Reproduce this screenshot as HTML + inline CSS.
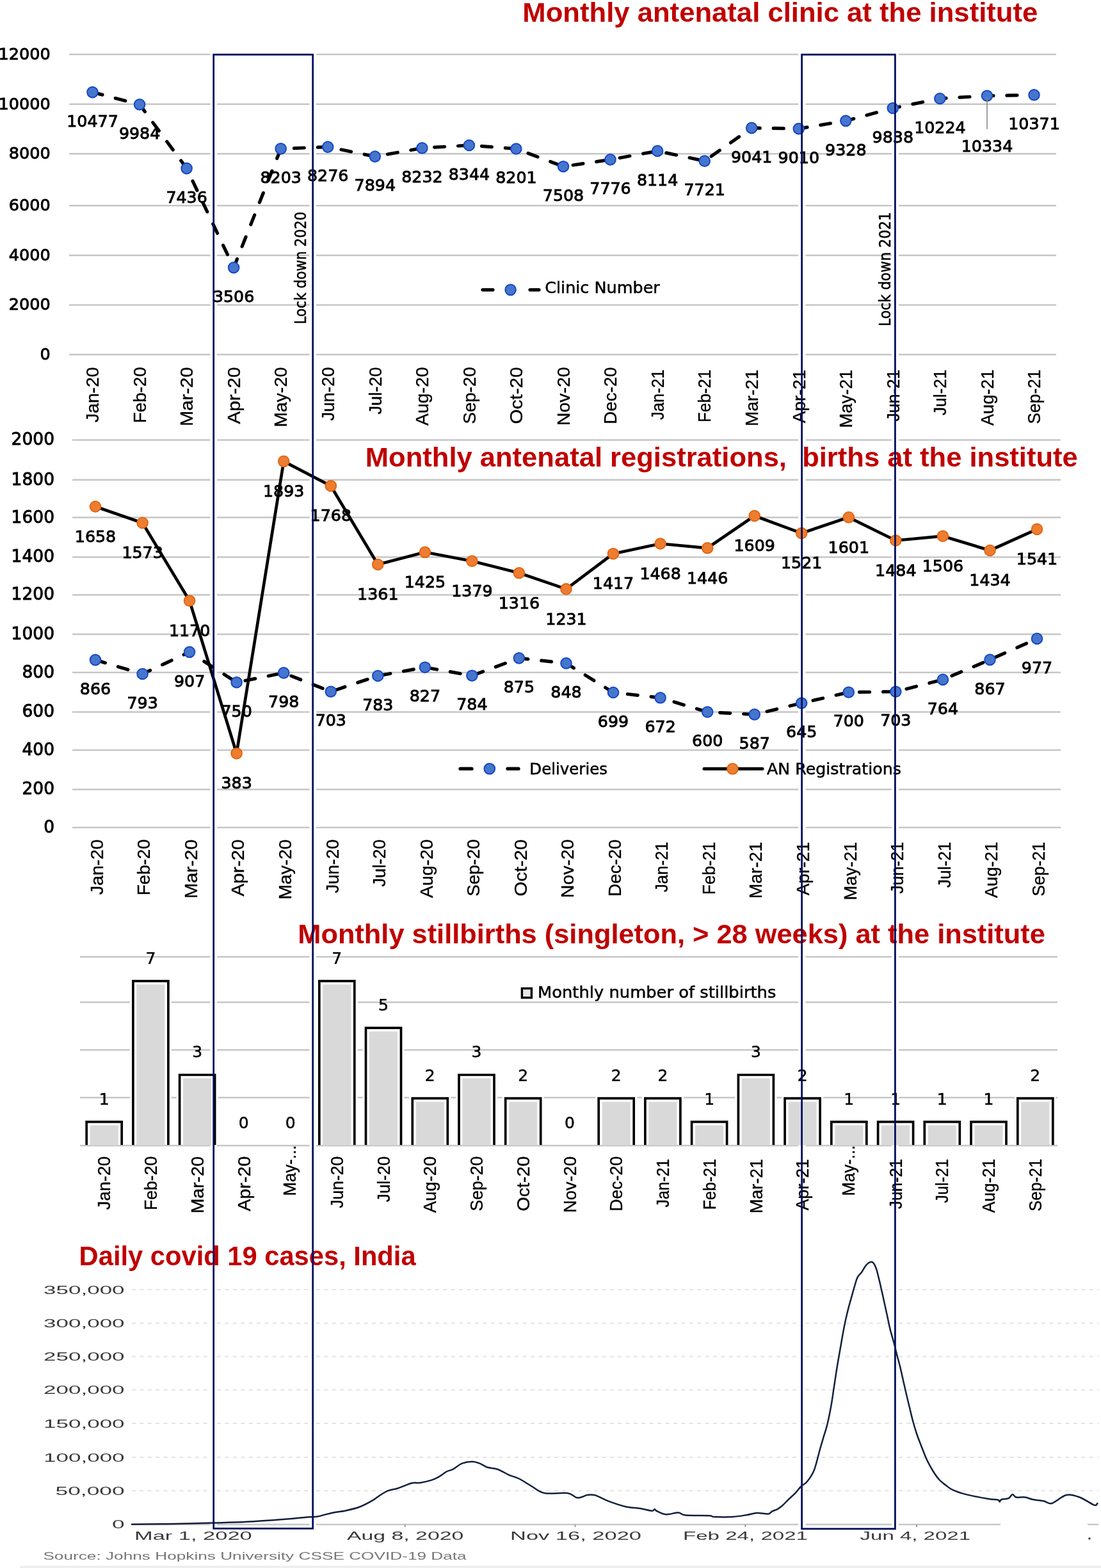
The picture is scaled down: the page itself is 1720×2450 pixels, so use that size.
<!DOCTYPE html><html><head><meta charset="utf-8"><title>Monthly antenatal clinic, registrations, births and stillbirths vs daily covid 19 cases</title>
<style>html,body{margin:0;padding:0;background:#fff;}svg{display:block;}</style></head><body>
<svg width="1720" height="2450" viewBox="0 0 1720 2450">
<rect x="0" y="0" width="1720" height="2450" fill="#fff"/>
<line x1="108" y1="554" x2="328.5" y2="554" stroke="#c6c6c6" stroke-width="2.5"/>
<line x1="339" y1="554" x2="483.5" y2="554" stroke="#c6c6c6" stroke-width="2.5"/>
<line x1="494" y1="554" x2="1247" y2="554" stroke="#c6c6c6" stroke-width="2.5"/>
<line x1="1258.5" y1="554" x2="1393" y2="554" stroke="#c6c6c6" stroke-width="2.5"/>
<line x1="1404" y1="554" x2="1650" y2="554" stroke="#c6c6c6" stroke-width="2.5"/>
<text x="78.7" y="562" font-size="25.5" font-family="'DejaVu Sans', 'Liberation Sans', sans-serif" fill="#000" text-anchor="end" stroke="#000" stroke-width="0.9">0</text>
<line x1="108" y1="476.4" x2="328.5" y2="476.4" stroke="#c6c6c6" stroke-width="2.5"/>
<line x1="339" y1="476.4" x2="483.5" y2="476.4" stroke="#c6c6c6" stroke-width="2.5"/>
<line x1="494" y1="476.4" x2="1247" y2="476.4" stroke="#c6c6c6" stroke-width="2.5"/>
<line x1="1258.5" y1="476.4" x2="1393" y2="476.4" stroke="#c6c6c6" stroke-width="2.5"/>
<line x1="1404" y1="476.4" x2="1650" y2="476.4" stroke="#c6c6c6" stroke-width="2.5"/>
<text x="78.7" y="484.4" font-size="25.5" font-family="'DejaVu Sans', 'Liberation Sans', sans-serif" fill="#000" text-anchor="end" stroke="#000" stroke-width="0.9">2000</text>
<line x1="108" y1="399" x2="328.5" y2="399" stroke="#c6c6c6" stroke-width="2.5"/>
<line x1="339" y1="399" x2="483.5" y2="399" stroke="#c6c6c6" stroke-width="2.5"/>
<line x1="494" y1="399" x2="1247" y2="399" stroke="#c6c6c6" stroke-width="2.5"/>
<line x1="1258.5" y1="399" x2="1393" y2="399" stroke="#c6c6c6" stroke-width="2.5"/>
<line x1="1404" y1="399" x2="1650" y2="399" stroke="#c6c6c6" stroke-width="2.5"/>
<text x="78.7" y="407" font-size="25.5" font-family="'DejaVu Sans', 'Liberation Sans', sans-serif" fill="#000" text-anchor="end" stroke="#000" stroke-width="0.9">4000</text>
<line x1="108" y1="321.2" x2="328.5" y2="321.2" stroke="#c6c6c6" stroke-width="2.5"/>
<line x1="339" y1="321.2" x2="483.5" y2="321.2" stroke="#c6c6c6" stroke-width="2.5"/>
<line x1="494" y1="321.2" x2="1247" y2="321.2" stroke="#c6c6c6" stroke-width="2.5"/>
<line x1="1258.5" y1="321.2" x2="1393" y2="321.2" stroke="#c6c6c6" stroke-width="2.5"/>
<line x1="1404" y1="321.2" x2="1650" y2="321.2" stroke="#c6c6c6" stroke-width="2.5"/>
<text x="78.7" y="329.2" font-size="25.5" font-family="'DejaVu Sans', 'Liberation Sans', sans-serif" fill="#000" text-anchor="end" stroke="#000" stroke-width="0.9">6000</text>
<line x1="108" y1="240.3" x2="328.5" y2="240.3" stroke="#c6c6c6" stroke-width="2.5"/>
<line x1="339" y1="240.3" x2="483.5" y2="240.3" stroke="#c6c6c6" stroke-width="2.5"/>
<line x1="494" y1="240.3" x2="1247" y2="240.3" stroke="#c6c6c6" stroke-width="2.5"/>
<line x1="1258.5" y1="240.3" x2="1393" y2="240.3" stroke="#c6c6c6" stroke-width="2.5"/>
<line x1="1404" y1="240.3" x2="1650" y2="240.3" stroke="#c6c6c6" stroke-width="2.5"/>
<text x="78.7" y="248.3" font-size="25.5" font-family="'DejaVu Sans', 'Liberation Sans', sans-serif" fill="#000" text-anchor="end" stroke="#000" stroke-width="0.9">8000</text>
<line x1="108" y1="162.7" x2="328.5" y2="162.7" stroke="#c6c6c6" stroke-width="2.5"/>
<line x1="339" y1="162.7" x2="483.5" y2="162.7" stroke="#c6c6c6" stroke-width="2.5"/>
<line x1="494" y1="162.7" x2="1247" y2="162.7" stroke="#c6c6c6" stroke-width="2.5"/>
<line x1="1258.5" y1="162.7" x2="1393" y2="162.7" stroke="#c6c6c6" stroke-width="2.5"/>
<line x1="1404" y1="162.7" x2="1650" y2="162.7" stroke="#c6c6c6" stroke-width="2.5"/>
<text x="78.7" y="170.7" font-size="25.5" font-family="'DejaVu Sans', 'Liberation Sans', sans-serif" fill="#000" text-anchor="end" stroke="#000" stroke-width="0.9">10000</text>
<line x1="108" y1="84.9" x2="328.5" y2="84.9" stroke="#c6c6c6" stroke-width="2.5"/>
<line x1="339" y1="84.9" x2="483.5" y2="84.9" stroke="#c6c6c6" stroke-width="2.5"/>
<line x1="494" y1="84.9" x2="1247" y2="84.9" stroke="#c6c6c6" stroke-width="2.5"/>
<line x1="1258.5" y1="84.9" x2="1393" y2="84.9" stroke="#c6c6c6" stroke-width="2.5"/>
<line x1="1404" y1="84.9" x2="1650" y2="84.9" stroke="#c6c6c6" stroke-width="2.5"/>
<text x="78.7" y="92.9" font-size="25.5" font-family="'DejaVu Sans', 'Liberation Sans', sans-serif" fill="#000" text-anchor="end" stroke="#000" stroke-width="0.9">12000</text>
<polyline points="144.5,144.1 218.1,163.3 291.6,263.1 365.1,418.1 438.7,232.4 512.2,229.6 585.8,244.6 659.4,231.3 732.9,227 806.4,232.5 880,260.2 953.5,249.4 1027.1,235.9 1100.7,251.6 1174.2,199.9 1247.8,201.1 1321.3,188.8 1394.8,169 1468.4,154 1542,149.7 1615.5,148.3" fill="none" stroke="#000" stroke-width="5.2" stroke-linejoin="round" stroke-dasharray="16 21" stroke-linecap="round"/>
<circle cx="144.5" cy="144.1" r="8.3" fill="#4676cc" stroke="#1848c8" stroke-width="2"/>
<circle cx="218.1" cy="163.3" r="8.3" fill="#4676cc" stroke="#1848c8" stroke-width="2"/>
<circle cx="291.6" cy="263.1" r="8.3" fill="#4676cc" stroke="#1848c8" stroke-width="2"/>
<circle cx="365.1" cy="418.1" r="8.3" fill="#4676cc" stroke="#1848c8" stroke-width="2"/>
<circle cx="438.7" cy="232.4" r="8.3" fill="#4676cc" stroke="#1848c8" stroke-width="2"/>
<circle cx="512.2" cy="229.6" r="8.3" fill="#4676cc" stroke="#1848c8" stroke-width="2"/>
<circle cx="585.8" cy="244.6" r="8.3" fill="#4676cc" stroke="#1848c8" stroke-width="2"/>
<circle cx="659.4" cy="231.3" r="8.3" fill="#4676cc" stroke="#1848c8" stroke-width="2"/>
<circle cx="732.9" cy="227" r="8.3" fill="#4676cc" stroke="#1848c8" stroke-width="2"/>
<circle cx="806.4" cy="232.5" r="8.3" fill="#4676cc" stroke="#1848c8" stroke-width="2"/>
<circle cx="880" cy="260.2" r="8.3" fill="#4676cc" stroke="#1848c8" stroke-width="2"/>
<circle cx="953.5" cy="249.4" r="8.3" fill="#4676cc" stroke="#1848c8" stroke-width="2"/>
<circle cx="1027.1" cy="235.9" r="8.3" fill="#4676cc" stroke="#1848c8" stroke-width="2"/>
<circle cx="1100.7" cy="251.6" r="8.3" fill="#4676cc" stroke="#1848c8" stroke-width="2"/>
<circle cx="1174.2" cy="199.9" r="8.3" fill="#4676cc" stroke="#1848c8" stroke-width="2"/>
<circle cx="1247.8" cy="201.1" r="8.3" fill="#4676cc" stroke="#1848c8" stroke-width="2"/>
<circle cx="1321.3" cy="188.8" r="8.3" fill="#4676cc" stroke="#1848c8" stroke-width="2"/>
<circle cx="1394.8" cy="169" r="8.3" fill="#4676cc" stroke="#1848c8" stroke-width="2"/>
<circle cx="1468.4" cy="154" r="8.3" fill="#4676cc" stroke="#1848c8" stroke-width="2"/>
<circle cx="1542" cy="149.7" r="8.3" fill="#4676cc" stroke="#1848c8" stroke-width="2"/>
<circle cx="1615.5" cy="148.3" r="8.3" fill="#4676cc" stroke="#1848c8" stroke-width="2"/>
<text x="144.5" y="197.8" font-size="25.3" font-family="'DejaVu Sans', 'Liberation Sans', sans-serif" fill="#000" text-anchor="middle" stroke="#000" stroke-width="0.9">10477</text>
<text x="218.1" y="217" font-size="25.3" font-family="'DejaVu Sans', 'Liberation Sans', sans-serif" fill="#000" text-anchor="middle" stroke="#000" stroke-width="0.9">9984</text>
<text x="291.6" y="316.8" font-size="25.3" font-family="'DejaVu Sans', 'Liberation Sans', sans-serif" fill="#000" text-anchor="middle" stroke="#000" stroke-width="0.9">7436</text>
<text x="365.1" y="471.8" font-size="25.3" font-family="'DejaVu Sans', 'Liberation Sans', sans-serif" fill="#000" text-anchor="middle" stroke="#000" stroke-width="0.9">3506</text>
<text x="438.7" y="286.1" font-size="25.3" font-family="'DejaVu Sans', 'Liberation Sans', sans-serif" fill="#000" text-anchor="middle" stroke="#000" stroke-width="0.9">8203</text>
<text x="512.2" y="283.3" font-size="25.3" font-family="'DejaVu Sans', 'Liberation Sans', sans-serif" fill="#000" text-anchor="middle" stroke="#000" stroke-width="0.9">8276</text>
<text x="585.8" y="298.3" font-size="25.3" font-family="'DejaVu Sans', 'Liberation Sans', sans-serif" fill="#000" text-anchor="middle" stroke="#000" stroke-width="0.9">7894</text>
<text x="659.4" y="285" font-size="25.3" font-family="'DejaVu Sans', 'Liberation Sans', sans-serif" fill="#000" text-anchor="middle" stroke="#000" stroke-width="0.9">8232</text>
<text x="732.9" y="280.7" font-size="25.3" font-family="'DejaVu Sans', 'Liberation Sans', sans-serif" fill="#000" text-anchor="middle" stroke="#000" stroke-width="0.9">8344</text>
<text x="806.4" y="286.2" font-size="25.3" font-family="'DejaVu Sans', 'Liberation Sans', sans-serif" fill="#000" text-anchor="middle" stroke="#000" stroke-width="0.9">8201</text>
<text x="880" y="313.9" font-size="25.3" font-family="'DejaVu Sans', 'Liberation Sans', sans-serif" fill="#000" text-anchor="middle" stroke="#000" stroke-width="0.9">7508</text>
<text x="953.5" y="303.1" font-size="25.3" font-family="'DejaVu Sans', 'Liberation Sans', sans-serif" fill="#000" text-anchor="middle" stroke="#000" stroke-width="0.9">7776</text>
<text x="1027.1" y="289.6" font-size="25.3" font-family="'DejaVu Sans', 'Liberation Sans', sans-serif" fill="#000" text-anchor="middle" stroke="#000" stroke-width="0.9">8114</text>
<text x="1100.7" y="305.3" font-size="25.3" font-family="'DejaVu Sans', 'Liberation Sans', sans-serif" fill="#000" text-anchor="middle" stroke="#000" stroke-width="0.9">7721</text>
<text x="1174.2" y="253.6" font-size="25.3" font-family="'DejaVu Sans', 'Liberation Sans', sans-serif" fill="#000" text-anchor="middle" stroke="#000" stroke-width="0.9">9041</text>
<text x="1247.8" y="254.8" font-size="25.3" font-family="'DejaVu Sans', 'Liberation Sans', sans-serif" fill="#000" text-anchor="middle" stroke="#000" stroke-width="0.9">9010</text>
<text x="1321.3" y="242.5" font-size="25.3" font-family="'DejaVu Sans', 'Liberation Sans', sans-serif" fill="#000" text-anchor="middle" stroke="#000" stroke-width="0.9">9328</text>
<text x="1394.8" y="222.7" font-size="25.3" font-family="'DejaVu Sans', 'Liberation Sans', sans-serif" fill="#000" text-anchor="middle" stroke="#000" stroke-width="0.9">9838</text>
<text x="1468.4" y="207.7" font-size="25.3" font-family="'DejaVu Sans', 'Liberation Sans', sans-serif" fill="#000" text-anchor="middle" stroke="#000" stroke-width="0.9">10224</text>
<line x1="1542" y1="151.7" x2="1542" y2="201.7" stroke="#888" stroke-width="1.6"/>
<text x="1542" y="236.5" font-size="25.3" font-family="'DejaVu Sans', 'Liberation Sans', sans-serif" fill="#000" text-anchor="middle" stroke="#000" stroke-width="0.9">10334</text>
<text x="1615.5" y="202" font-size="25.3" font-family="'DejaVu Sans', 'Liberation Sans', sans-serif" fill="#000" text-anchor="middle" stroke="#000" stroke-width="0.9">10371</text>
<text transform="translate(154.2,573.5) rotate(-90)" font-size="28.3" font-family="'Liberation Sans', 'DejaVu Sans', sans-serif" text-anchor="end" stroke="#000" stroke-width="0.35" textLength="86.5" lengthAdjust="spacingAndGlyphs">Jan-20</text>
<text transform="translate(227.8,573.5) rotate(-90)" font-size="28.3" font-family="'Liberation Sans', 'DejaVu Sans', sans-serif" text-anchor="end" stroke="#000" stroke-width="0.35" textLength="87.5" lengthAdjust="spacingAndGlyphs">Feb-20</text>
<text transform="translate(301.3,573.5) rotate(-90)" font-size="28.3" font-family="'Liberation Sans', 'DejaVu Sans', sans-serif" text-anchor="end" stroke="#000" stroke-width="0.35" textLength="92.5" lengthAdjust="spacingAndGlyphs">Mar-20</text>
<text transform="translate(374.9,573.5) rotate(-90)" font-size="28.3" font-family="'Liberation Sans', 'DejaVu Sans', sans-serif" text-anchor="end" stroke="#000" stroke-width="0.35" textLength="89" lengthAdjust="spacingAndGlyphs">Apr-20</text>
<text transform="translate(448.4,573.5) rotate(-90)" font-size="28.3" font-family="'Liberation Sans', 'DejaVu Sans', sans-serif" text-anchor="end" stroke="#000" stroke-width="0.35" textLength="94" lengthAdjust="spacingAndGlyphs">May-20</text>
<text transform="translate(522,573.5) rotate(-90)" font-size="28.3" font-family="'Liberation Sans', 'DejaVu Sans', sans-serif" text-anchor="end" stroke="#000" stroke-width="0.35" textLength="84" lengthAdjust="spacingAndGlyphs">Jun-20</text>
<text transform="translate(595.5,573.5) rotate(-90)" font-size="28.3" font-family="'Liberation Sans', 'DejaVu Sans', sans-serif" text-anchor="end" stroke="#000" stroke-width="0.35" textLength="74.1" lengthAdjust="spacingAndGlyphs">Jul-20</text>
<text transform="translate(669.1,573.5) rotate(-90)" font-size="28.3" font-family="'Liberation Sans', 'DejaVu Sans', sans-serif" text-anchor="end" stroke="#000" stroke-width="0.35" textLength="91.5" lengthAdjust="spacingAndGlyphs">Aug-20</text>
<text transform="translate(742.6,573.5) rotate(-90)" font-size="28.3" font-family="'Liberation Sans', 'DejaVu Sans', sans-serif" text-anchor="end" stroke="#000" stroke-width="0.35" textLength="89" lengthAdjust="spacingAndGlyphs">Sep-20</text>
<text transform="translate(816.2,573.5) rotate(-90)" font-size="28.3" font-family="'Liberation Sans', 'DejaVu Sans', sans-serif" text-anchor="end" stroke="#000" stroke-width="0.35" textLength="89" lengthAdjust="spacingAndGlyphs">Oct-20</text>
<text transform="translate(889.7,573.5) rotate(-90)" font-size="28.3" font-family="'Liberation Sans', 'DejaVu Sans', sans-serif" text-anchor="end" stroke="#000" stroke-width="0.35" textLength="91.5" lengthAdjust="spacingAndGlyphs">Nov-20</text>
<text transform="translate(963.3,573.5) rotate(-90)" font-size="28.3" font-family="'Liberation Sans', 'DejaVu Sans', sans-serif" text-anchor="end" stroke="#000" stroke-width="0.35" textLength="89.2" lengthAdjust="spacingAndGlyphs">Dec-20</text>
<text transform="translate(1036.8,577.5) rotate(-90)" font-size="28.3" font-family="'Liberation Sans', 'DejaVu Sans', sans-serif" text-anchor="end" stroke="#000" stroke-width="0.35" textLength="78.5" lengthAdjust="spacingAndGlyphs">Jan-21</text>
<text transform="translate(1110.4,577.5) rotate(-90)" font-size="28.3" font-family="'Liberation Sans', 'DejaVu Sans', sans-serif" text-anchor="end" stroke="#000" stroke-width="0.35" textLength="82.5" lengthAdjust="spacingAndGlyphs">Feb-21</text>
<text transform="translate(1183.9,577.5) rotate(-90)" font-size="28.3" font-family="'Liberation Sans', 'DejaVu Sans', sans-serif" text-anchor="end" stroke="#000" stroke-width="0.35" textLength="88.5" lengthAdjust="spacingAndGlyphs">Mar-21</text>
<text transform="translate(1257.5,577.5) rotate(-90)" font-size="28.3" font-family="'Liberation Sans', 'DejaVu Sans', sans-serif" text-anchor="end" stroke="#000" stroke-width="0.35" textLength="83.5" lengthAdjust="spacingAndGlyphs">Apr-21</text>
<text transform="translate(1331,577.5) rotate(-90)" font-size="28.3" font-family="'Liberation Sans', 'DejaVu Sans', sans-serif" text-anchor="end" stroke="#000" stroke-width="0.35" textLength="91" lengthAdjust="spacingAndGlyphs">May-21</text>
<text transform="translate(1404.6,577.5) rotate(-90)" font-size="28.3" font-family="'Liberation Sans', 'DejaVu Sans', sans-serif" text-anchor="end" stroke="#000" stroke-width="0.35" textLength="81" lengthAdjust="spacingAndGlyphs">Jun-21</text>
<text transform="translate(1478.1,577.5) rotate(-90)" font-size="28.3" font-family="'Liberation Sans', 'DejaVu Sans', sans-serif" text-anchor="end" stroke="#000" stroke-width="0.35" textLength="71.5" lengthAdjust="spacingAndGlyphs">Jul-21</text>
<text transform="translate(1551.7,577.5) rotate(-90)" font-size="28.3" font-family="'Liberation Sans', 'DejaVu Sans', sans-serif" text-anchor="end" stroke="#000" stroke-width="0.35" textLength="87.5" lengthAdjust="spacingAndGlyphs">Aug-21</text>
<text transform="translate(1625.2,577.5) rotate(-90)" font-size="28.3" font-family="'Liberation Sans', 'DejaVu Sans', sans-serif" text-anchor="end" stroke="#000" stroke-width="0.35" textLength="85" lengthAdjust="spacingAndGlyphs">Sep-21</text>
<line x1="754" y1="452.8" x2="770" y2="452.8" stroke="#000" stroke-width="5.2" stroke-linecap="round"/>
<line x1="828" y1="452.8" x2="842" y2="452.8" stroke="#000" stroke-width="5.2" stroke-linecap="round"/>
<circle cx="797.6" cy="452.8" r="8.3" fill="#4676cc" stroke="#1848c8" stroke-width="2"/>
<text x="851.2" y="457.7" font-size="24.4" font-family="'DejaVu Sans', 'Liberation Sans', sans-serif" fill="#000" text-anchor="start" textLength="179.6" lengthAdjust="spacingAndGlyphs" stroke="#000" stroke-width="0.5">Clinic Number</text>
<text transform="translate(477.5,506.5) rotate(-90)" font-size="24" font-family="'DejaVu Sans', 'Liberation Sans', sans-serif" textLength="175.8" lengthAdjust="spacingAndGlyphs" stroke="#000" stroke-width="0.5">Lock down 2020</text>
<text transform="translate(1390.6,510) rotate(-90)" font-size="24" font-family="'DejaVu Sans', 'Liberation Sans', sans-serif" textLength="178.8" lengthAdjust="spacingAndGlyphs" stroke="#000" stroke-width="0.5">Lock down 2021</text>
<text x="816.3" y="33.5" font-size="43" font-family="'Liberation Sans', 'DejaVu Sans', sans-serif" fill="#c00000" text-anchor="start" font-weight="bold" textLength="805" lengthAdjust="spacingAndGlyphs">Monthly antenatal clinic at the institute</text>
<line x1="113" y1="1293" x2="328.5" y2="1293" stroke="#c6c6c6" stroke-width="2.5"/>
<line x1="339" y1="1293" x2="483.5" y2="1293" stroke="#c6c6c6" stroke-width="2.5"/>
<line x1="494" y1="1293" x2="1247" y2="1293" stroke="#c6c6c6" stroke-width="2.5"/>
<line x1="1258.5" y1="1293" x2="1393" y2="1293" stroke="#c6c6c6" stroke-width="2.5"/>
<line x1="1404" y1="1293" x2="1657" y2="1293" stroke="#c6c6c6" stroke-width="2.5"/>
<text x="85" y="1300.9" font-size="26.5" font-family="'DejaVu Sans', 'Liberation Sans', sans-serif" fill="#000" text-anchor="end" stroke="#000" stroke-width="0.9">0</text>
<line x1="113" y1="1233.5" x2="328.5" y2="1233.5" stroke="#c6c6c6" stroke-width="2.5"/>
<line x1="339" y1="1233.5" x2="483.5" y2="1233.5" stroke="#c6c6c6" stroke-width="2.5"/>
<line x1="494" y1="1233.5" x2="1247" y2="1233.5" stroke="#c6c6c6" stroke-width="2.5"/>
<line x1="1258.5" y1="1233.5" x2="1393" y2="1233.5" stroke="#c6c6c6" stroke-width="2.5"/>
<line x1="1404" y1="1233.5" x2="1657" y2="1233.5" stroke="#c6c6c6" stroke-width="2.5"/>
<text x="85" y="1241.4" font-size="26.5" font-family="'DejaVu Sans', 'Liberation Sans', sans-serif" fill="#000" text-anchor="end" stroke="#000" stroke-width="0.9">200</text>
<line x1="113" y1="1172" x2="328.5" y2="1172" stroke="#c6c6c6" stroke-width="2.5"/>
<line x1="339" y1="1172" x2="483.5" y2="1172" stroke="#c6c6c6" stroke-width="2.5"/>
<line x1="494" y1="1172" x2="1247" y2="1172" stroke="#c6c6c6" stroke-width="2.5"/>
<line x1="1258.5" y1="1172" x2="1393" y2="1172" stroke="#c6c6c6" stroke-width="2.5"/>
<line x1="1404" y1="1172" x2="1657" y2="1172" stroke="#c6c6c6" stroke-width="2.5"/>
<text x="85" y="1179.9" font-size="26.5" font-family="'DejaVu Sans', 'Liberation Sans', sans-serif" fill="#000" text-anchor="end" stroke="#000" stroke-width="0.9">400</text>
<line x1="113" y1="1112.5" x2="328.5" y2="1112.5" stroke="#c6c6c6" stroke-width="2.5"/>
<line x1="339" y1="1112.5" x2="483.5" y2="1112.5" stroke="#c6c6c6" stroke-width="2.5"/>
<line x1="494" y1="1112.5" x2="1247" y2="1112.5" stroke="#c6c6c6" stroke-width="2.5"/>
<line x1="1258.5" y1="1112.5" x2="1393" y2="1112.5" stroke="#c6c6c6" stroke-width="2.5"/>
<line x1="1404" y1="1112.5" x2="1657" y2="1112.5" stroke="#c6c6c6" stroke-width="2.5"/>
<text x="85" y="1120.4" font-size="26.5" font-family="'DejaVu Sans', 'Liberation Sans', sans-serif" fill="#000" text-anchor="end" stroke="#000" stroke-width="0.9">600</text>
<line x1="113" y1="1050.8" x2="328.5" y2="1050.8" stroke="#c6c6c6" stroke-width="2.5"/>
<line x1="339" y1="1050.8" x2="483.5" y2="1050.8" stroke="#c6c6c6" stroke-width="2.5"/>
<line x1="494" y1="1050.8" x2="1247" y2="1050.8" stroke="#c6c6c6" stroke-width="2.5"/>
<line x1="1258.5" y1="1050.8" x2="1393" y2="1050.8" stroke="#c6c6c6" stroke-width="2.5"/>
<line x1="1404" y1="1050.8" x2="1657" y2="1050.8" stroke="#c6c6c6" stroke-width="2.5"/>
<text x="85" y="1058.7" font-size="26.5" font-family="'DejaVu Sans', 'Liberation Sans', sans-serif" fill="#000" text-anchor="end" stroke="#000" stroke-width="0.9">800</text>
<line x1="113" y1="991" x2="328.5" y2="991" stroke="#c6c6c6" stroke-width="2.5"/>
<line x1="339" y1="991" x2="483.5" y2="991" stroke="#c6c6c6" stroke-width="2.5"/>
<line x1="494" y1="991" x2="1247" y2="991" stroke="#c6c6c6" stroke-width="2.5"/>
<line x1="1258.5" y1="991" x2="1393" y2="991" stroke="#c6c6c6" stroke-width="2.5"/>
<line x1="1404" y1="991" x2="1657" y2="991" stroke="#c6c6c6" stroke-width="2.5"/>
<text x="85" y="998.9" font-size="26.5" font-family="'DejaVu Sans', 'Liberation Sans', sans-serif" fill="#000" text-anchor="end" stroke="#000" stroke-width="0.9">1000</text>
<line x1="113" y1="929.5" x2="328.5" y2="929.5" stroke="#c6c6c6" stroke-width="2.5"/>
<line x1="339" y1="929.5" x2="483.5" y2="929.5" stroke="#c6c6c6" stroke-width="2.5"/>
<line x1="494" y1="929.5" x2="1247" y2="929.5" stroke="#c6c6c6" stroke-width="2.5"/>
<line x1="1258.5" y1="929.5" x2="1393" y2="929.5" stroke="#c6c6c6" stroke-width="2.5"/>
<line x1="1404" y1="929.5" x2="1657" y2="929.5" stroke="#c6c6c6" stroke-width="2.5"/>
<text x="85" y="937.4" font-size="26.5" font-family="'DejaVu Sans', 'Liberation Sans', sans-serif" fill="#000" text-anchor="end" stroke="#000" stroke-width="0.9">1200</text>
<line x1="113" y1="870.5" x2="328.5" y2="870.5" stroke="#c6c6c6" stroke-width="2.5"/>
<line x1="339" y1="870.5" x2="483.5" y2="870.5" stroke="#c6c6c6" stroke-width="2.5"/>
<line x1="494" y1="870.5" x2="1247" y2="870.5" stroke="#c6c6c6" stroke-width="2.5"/>
<line x1="1258.5" y1="870.5" x2="1393" y2="870.5" stroke="#c6c6c6" stroke-width="2.5"/>
<line x1="1404" y1="870.5" x2="1657" y2="870.5" stroke="#c6c6c6" stroke-width="2.5"/>
<text x="85" y="878.4" font-size="26.5" font-family="'DejaVu Sans', 'Liberation Sans', sans-serif" fill="#000" text-anchor="end" stroke="#000" stroke-width="0.9">1400</text>
<line x1="113" y1="808.6" x2="328.5" y2="808.6" stroke="#c6c6c6" stroke-width="2.5"/>
<line x1="339" y1="808.6" x2="483.5" y2="808.6" stroke="#c6c6c6" stroke-width="2.5"/>
<line x1="494" y1="808.6" x2="1247" y2="808.6" stroke="#c6c6c6" stroke-width="2.5"/>
<line x1="1258.5" y1="808.6" x2="1393" y2="808.6" stroke="#c6c6c6" stroke-width="2.5"/>
<line x1="1404" y1="808.6" x2="1657" y2="808.6" stroke="#c6c6c6" stroke-width="2.5"/>
<text x="85" y="816.5" font-size="26.5" font-family="'DejaVu Sans', 'Liberation Sans', sans-serif" fill="#000" text-anchor="end" stroke="#000" stroke-width="0.9">1600</text>
<line x1="113" y1="749.8" x2="328.5" y2="749.8" stroke="#c6c6c6" stroke-width="2.5"/>
<line x1="339" y1="749.8" x2="483.5" y2="749.8" stroke="#c6c6c6" stroke-width="2.5"/>
<line x1="494" y1="749.8" x2="1247" y2="749.8" stroke="#c6c6c6" stroke-width="2.5"/>
<line x1="1258.5" y1="749.8" x2="1393" y2="749.8" stroke="#c6c6c6" stroke-width="2.5"/>
<line x1="1404" y1="749.8" x2="1657" y2="749.8" stroke="#c6c6c6" stroke-width="2.5"/>
<text x="85" y="757.7" font-size="26.5" font-family="'DejaVu Sans', 'Liberation Sans', sans-serif" fill="#000" text-anchor="end" stroke="#000" stroke-width="0.9">1800</text>
<line x1="113" y1="687.5" x2="328.5" y2="687.5" stroke="#c6c6c6" stroke-width="2.5"/>
<line x1="339" y1="687.5" x2="483.5" y2="687.5" stroke="#c6c6c6" stroke-width="2.5"/>
<line x1="494" y1="687.5" x2="1247" y2="687.5" stroke="#c6c6c6" stroke-width="2.5"/>
<line x1="1258.5" y1="687.5" x2="1393" y2="687.5" stroke="#c6c6c6" stroke-width="2.5"/>
<line x1="1404" y1="687.5" x2="1657" y2="687.5" stroke="#c6c6c6" stroke-width="2.5"/>
<text x="85" y="695.4" font-size="26.5" font-family="'DejaVu Sans', 'Liberation Sans', sans-serif" fill="#000" text-anchor="end" stroke="#000" stroke-width="0.9">2000</text>
<text x="570.8" y="729.3" font-size="43" font-family="'Liberation Sans', 'DejaVu Sans', sans-serif" fill="#c00000" text-anchor="start" font-weight="bold" textLength="1113" lengthAdjust="spacingAndGlyphs">Monthly antenatal registrations,&#160; births at the institute</text>
<polyline points="149,1031.1 222.6,1053 296.1,1018.8 369.6,1066.2 443.2,1051.4 516.8,1080.7 590.3,1056 663.9,1042.7 737.4,1055.7 810.9,1028.4 884.5,1036.4 958,1082 1031.6,1090.3 1105.2,1112.5 1178.7,1116.4 1252.2,1098.6 1325.8,1081.7 1399.3,1080.7 1472.9,1061.9 1546.5,1030.8 1620,997.9" fill="none" stroke="#000" stroke-width="5.2" stroke-linejoin="round" stroke-dasharray="16 21" stroke-linecap="round"/>
<polyline points="149,791.5 222.6,817 296.1,938.7 369.6,1177.2 443.2,720.8 516.8,759.2 590.3,882 663.9,862.8 737.4,876.7 810.9,895.3 884.5,920.4 958,865.2 1031.6,849.5 1105.2,856.3 1178.7,806 1252.2,833.1 1325.8,808.3 1399.3,844.5 1472.9,837.7 1546.5,860 1620,826.9" fill="none" stroke="#000" stroke-width="4.7" stroke-linejoin="round" stroke-linecap="round"/>
<circle cx="149" cy="1031.1" r="8.3" fill="#4676cc" stroke="#1848c8" stroke-width="2"/>
<circle cx="222.6" cy="1053" r="8.3" fill="#4676cc" stroke="#1848c8" stroke-width="2"/>
<circle cx="296.1" cy="1018.8" r="8.3" fill="#4676cc" stroke="#1848c8" stroke-width="2"/>
<circle cx="369.6" cy="1066.2" r="8.3" fill="#4676cc" stroke="#1848c8" stroke-width="2"/>
<circle cx="443.2" cy="1051.4" r="8.3" fill="#4676cc" stroke="#1848c8" stroke-width="2"/>
<circle cx="516.8" cy="1080.7" r="8.3" fill="#4676cc" stroke="#1848c8" stroke-width="2"/>
<circle cx="590.3" cy="1056" r="8.3" fill="#4676cc" stroke="#1848c8" stroke-width="2"/>
<circle cx="663.9" cy="1042.7" r="8.3" fill="#4676cc" stroke="#1848c8" stroke-width="2"/>
<circle cx="737.4" cy="1055.7" r="8.3" fill="#4676cc" stroke="#1848c8" stroke-width="2"/>
<circle cx="810.9" cy="1028.4" r="8.3" fill="#4676cc" stroke="#1848c8" stroke-width="2"/>
<circle cx="884.5" cy="1036.4" r="8.3" fill="#4676cc" stroke="#1848c8" stroke-width="2"/>
<circle cx="958" cy="1082" r="8.3" fill="#4676cc" stroke="#1848c8" stroke-width="2"/>
<circle cx="1031.6" cy="1090.3" r="8.3" fill="#4676cc" stroke="#1848c8" stroke-width="2"/>
<circle cx="1105.2" cy="1112.5" r="8.3" fill="#4676cc" stroke="#1848c8" stroke-width="2"/>
<circle cx="1178.7" cy="1116.4" r="8.3" fill="#4676cc" stroke="#1848c8" stroke-width="2"/>
<circle cx="1252.2" cy="1098.6" r="8.3" fill="#4676cc" stroke="#1848c8" stroke-width="2"/>
<circle cx="1325.8" cy="1081.7" r="8.3" fill="#4676cc" stroke="#1848c8" stroke-width="2"/>
<circle cx="1399.3" cy="1080.7" r="8.3" fill="#4676cc" stroke="#1848c8" stroke-width="2"/>
<circle cx="1472.9" cy="1061.9" r="8.3" fill="#4676cc" stroke="#1848c8" stroke-width="2"/>
<circle cx="1546.5" cy="1030.8" r="8.3" fill="#4676cc" stroke="#1848c8" stroke-width="2"/>
<circle cx="1620" cy="997.9" r="8.3" fill="#4676cc" stroke="#1848c8" stroke-width="2"/>
<circle cx="149" cy="791.5" r="8.4" fill="#ed7d31" stroke="#e2640e" stroke-width="1.8"/>
<circle cx="222.6" cy="817" r="8.4" fill="#ed7d31" stroke="#e2640e" stroke-width="1.8"/>
<circle cx="296.1" cy="938.7" r="8.4" fill="#ed7d31" stroke="#e2640e" stroke-width="1.8"/>
<circle cx="369.6" cy="1177.2" r="8.4" fill="#ed7d31" stroke="#e2640e" stroke-width="1.8"/>
<circle cx="443.2" cy="720.8" r="8.4" fill="#ed7d31" stroke="#e2640e" stroke-width="1.8"/>
<circle cx="516.8" cy="759.2" r="8.4" fill="#ed7d31" stroke="#e2640e" stroke-width="1.8"/>
<circle cx="590.3" cy="882" r="8.4" fill="#ed7d31" stroke="#e2640e" stroke-width="1.8"/>
<circle cx="663.9" cy="862.8" r="8.4" fill="#ed7d31" stroke="#e2640e" stroke-width="1.8"/>
<circle cx="737.4" cy="876.7" r="8.4" fill="#ed7d31" stroke="#e2640e" stroke-width="1.8"/>
<circle cx="810.9" cy="895.3" r="8.4" fill="#ed7d31" stroke="#e2640e" stroke-width="1.8"/>
<circle cx="884.5" cy="920.4" r="8.4" fill="#ed7d31" stroke="#e2640e" stroke-width="1.8"/>
<circle cx="958" cy="865.2" r="8.4" fill="#ed7d31" stroke="#e2640e" stroke-width="1.8"/>
<circle cx="1031.6" cy="849.5" r="8.4" fill="#ed7d31" stroke="#e2640e" stroke-width="1.8"/>
<circle cx="1105.2" cy="856.3" r="8.4" fill="#ed7d31" stroke="#e2640e" stroke-width="1.8"/>
<circle cx="1178.7" cy="806" r="8.4" fill="#ed7d31" stroke="#e2640e" stroke-width="1.8"/>
<circle cx="1252.2" cy="833.1" r="8.4" fill="#ed7d31" stroke="#e2640e" stroke-width="1.8"/>
<circle cx="1325.8" cy="808.3" r="8.4" fill="#ed7d31" stroke="#e2640e" stroke-width="1.8"/>
<circle cx="1399.3" cy="844.5" r="8.4" fill="#ed7d31" stroke="#e2640e" stroke-width="1.8"/>
<circle cx="1472.9" cy="837.7" r="8.4" fill="#ed7d31" stroke="#e2640e" stroke-width="1.8"/>
<circle cx="1546.5" cy="860" r="8.4" fill="#ed7d31" stroke="#e2640e" stroke-width="1.8"/>
<circle cx="1620" cy="826.9" r="8.4" fill="#ed7d31" stroke="#e2640e" stroke-width="1.8"/>
<text x="149" y="1084.8" font-size="25.3" font-family="'DejaVu Sans', 'Liberation Sans', sans-serif" fill="#000" text-anchor="middle" stroke="#000" stroke-width="0.9">866</text>
<text x="222.6" y="1106.7" font-size="25.3" font-family="'DejaVu Sans', 'Liberation Sans', sans-serif" fill="#000" text-anchor="middle" stroke="#000" stroke-width="0.9">793</text>
<text x="296.1" y="1072.5" font-size="25.3" font-family="'DejaVu Sans', 'Liberation Sans', sans-serif" fill="#000" text-anchor="middle" stroke="#000" stroke-width="0.9">907</text>
<text x="369.6" y="1119.9" font-size="25.3" font-family="'DejaVu Sans', 'Liberation Sans', sans-serif" fill="#000" text-anchor="middle" stroke="#000" stroke-width="0.9">750</text>
<text x="443.2" y="1105.1" font-size="25.3" font-family="'DejaVu Sans', 'Liberation Sans', sans-serif" fill="#000" text-anchor="middle" stroke="#000" stroke-width="0.9">798</text>
<text x="516.8" y="1134.4" font-size="25.3" font-family="'DejaVu Sans', 'Liberation Sans', sans-serif" fill="#000" text-anchor="middle" stroke="#000" stroke-width="0.9">703</text>
<text x="590.3" y="1109.7" font-size="25.3" font-family="'DejaVu Sans', 'Liberation Sans', sans-serif" fill="#000" text-anchor="middle" stroke="#000" stroke-width="0.9">783</text>
<text x="663.9" y="1096.4" font-size="25.3" font-family="'DejaVu Sans', 'Liberation Sans', sans-serif" fill="#000" text-anchor="middle" stroke="#000" stroke-width="0.9">827</text>
<text x="737.4" y="1109.4" font-size="25.3" font-family="'DejaVu Sans', 'Liberation Sans', sans-serif" fill="#000" text-anchor="middle" stroke="#000" stroke-width="0.9">784</text>
<text x="810.9" y="1082.1" font-size="25.3" font-family="'DejaVu Sans', 'Liberation Sans', sans-serif" fill="#000" text-anchor="middle" stroke="#000" stroke-width="0.9">875</text>
<text x="884.5" y="1090.1" font-size="25.3" font-family="'DejaVu Sans', 'Liberation Sans', sans-serif" fill="#000" text-anchor="middle" stroke="#000" stroke-width="0.9">848</text>
<text x="958" y="1135.7" font-size="25.3" font-family="'DejaVu Sans', 'Liberation Sans', sans-serif" fill="#000" text-anchor="middle" stroke="#000" stroke-width="0.9">699</text>
<text x="1031.6" y="1144" font-size="25.3" font-family="'DejaVu Sans', 'Liberation Sans', sans-serif" fill="#000" text-anchor="middle" stroke="#000" stroke-width="0.9">672</text>
<text x="1105.2" y="1166.2" font-size="25.3" font-family="'DejaVu Sans', 'Liberation Sans', sans-serif" fill="#000" text-anchor="middle" stroke="#000" stroke-width="0.9">600</text>
<text x="1178.7" y="1170.1" font-size="25.3" font-family="'DejaVu Sans', 'Liberation Sans', sans-serif" fill="#000" text-anchor="middle" stroke="#000" stroke-width="0.9">587</text>
<text x="1252.2" y="1152.3" font-size="25.3" font-family="'DejaVu Sans', 'Liberation Sans', sans-serif" fill="#000" text-anchor="middle" stroke="#000" stroke-width="0.9">645</text>
<text x="1325.8" y="1135.4" font-size="25.3" font-family="'DejaVu Sans', 'Liberation Sans', sans-serif" fill="#000" text-anchor="middle" stroke="#000" stroke-width="0.9">700</text>
<text x="1399.3" y="1134.4" font-size="25.3" font-family="'DejaVu Sans', 'Liberation Sans', sans-serif" fill="#000" text-anchor="middle" stroke="#000" stroke-width="0.9">703</text>
<text x="1472.9" y="1115.6" font-size="25.3" font-family="'DejaVu Sans', 'Liberation Sans', sans-serif" fill="#000" text-anchor="middle" stroke="#000" stroke-width="0.9">764</text>
<text x="1546.5" y="1084.5" font-size="25.3" font-family="'DejaVu Sans', 'Liberation Sans', sans-serif" fill="#000" text-anchor="middle" stroke="#000" stroke-width="0.9">867</text>
<text x="1620" y="1051.6" font-size="25.3" font-family="'DejaVu Sans', 'Liberation Sans', sans-serif" fill="#000" text-anchor="middle" stroke="#000" stroke-width="0.9">977</text>
<text x="149" y="846.7" font-size="25.3" font-family="'DejaVu Sans', 'Liberation Sans', sans-serif" fill="#000" text-anchor="middle" stroke="#000" stroke-width="0.9">1658</text>
<text x="222.6" y="872.2" font-size="25.3" font-family="'DejaVu Sans', 'Liberation Sans', sans-serif" fill="#000" text-anchor="middle" stroke="#000" stroke-width="0.9">1573</text>
<text x="296.1" y="993.9" font-size="25.3" font-family="'DejaVu Sans', 'Liberation Sans', sans-serif" fill="#000" text-anchor="middle" stroke="#000" stroke-width="0.9">1170</text>
<text x="369.6" y="1232.4" font-size="25.3" font-family="'DejaVu Sans', 'Liberation Sans', sans-serif" fill="#000" text-anchor="middle" stroke="#000" stroke-width="0.9">383</text>
<text x="443.2" y="776" font-size="25.3" font-family="'DejaVu Sans', 'Liberation Sans', sans-serif" fill="#000" text-anchor="middle" stroke="#000" stroke-width="0.9">1893</text>
<text x="516.8" y="814.4" font-size="25.3" font-family="'DejaVu Sans', 'Liberation Sans', sans-serif" fill="#000" text-anchor="middle" stroke="#000" stroke-width="0.9">1768</text>
<text x="590.3" y="937.2" font-size="25.3" font-family="'DejaVu Sans', 'Liberation Sans', sans-serif" fill="#000" text-anchor="middle" stroke="#000" stroke-width="0.9">1361</text>
<text x="663.9" y="918" font-size="25.3" font-family="'DejaVu Sans', 'Liberation Sans', sans-serif" fill="#000" text-anchor="middle" stroke="#000" stroke-width="0.9">1425</text>
<text x="737.4" y="931.9" font-size="25.3" font-family="'DejaVu Sans', 'Liberation Sans', sans-serif" fill="#000" text-anchor="middle" stroke="#000" stroke-width="0.9">1379</text>
<text x="810.9" y="950.5" font-size="25.3" font-family="'DejaVu Sans', 'Liberation Sans', sans-serif" fill="#000" text-anchor="middle" stroke="#000" stroke-width="0.9">1316</text>
<text x="884.5" y="975.6" font-size="25.3" font-family="'DejaVu Sans', 'Liberation Sans', sans-serif" fill="#000" text-anchor="middle" stroke="#000" stroke-width="0.9">1231</text>
<text x="958" y="920.4" font-size="25.3" font-family="'DejaVu Sans', 'Liberation Sans', sans-serif" fill="#000" text-anchor="middle" stroke="#000" stroke-width="0.9">1417</text>
<text x="1031.6" y="904.7" font-size="25.3" font-family="'DejaVu Sans', 'Liberation Sans', sans-serif" fill="#000" text-anchor="middle" stroke="#000" stroke-width="0.9">1468</text>
<text x="1105.2" y="911.5" font-size="25.3" font-family="'DejaVu Sans', 'Liberation Sans', sans-serif" fill="#000" text-anchor="middle" stroke="#000" stroke-width="0.9">1446</text>
<text x="1178.7" y="861.2" font-size="25.3" font-family="'DejaVu Sans', 'Liberation Sans', sans-serif" fill="#000" text-anchor="middle" stroke="#000" stroke-width="0.9">1609</text>
<text x="1252.2" y="888.3" font-size="25.3" font-family="'DejaVu Sans', 'Liberation Sans', sans-serif" fill="#000" text-anchor="middle" stroke="#000" stroke-width="0.9">1521</text>
<text x="1325.8" y="863.5" font-size="25.3" font-family="'DejaVu Sans', 'Liberation Sans', sans-serif" fill="#000" text-anchor="middle" stroke="#000" stroke-width="0.9">1601</text>
<text x="1399.3" y="899.7" font-size="25.3" font-family="'DejaVu Sans', 'Liberation Sans', sans-serif" fill="#000" text-anchor="middle" stroke="#000" stroke-width="0.9">1484</text>
<text x="1472.9" y="892.9" font-size="25.3" font-family="'DejaVu Sans', 'Liberation Sans', sans-serif" fill="#000" text-anchor="middle" stroke="#000" stroke-width="0.9">1506</text>
<text x="1546.5" y="915.2" font-size="25.3" font-family="'DejaVu Sans', 'Liberation Sans', sans-serif" fill="#000" text-anchor="middle" stroke="#000" stroke-width="0.9">1434</text>
<text x="1620" y="882.1" font-size="25.3" font-family="'DejaVu Sans', 'Liberation Sans', sans-serif" fill="#000" text-anchor="middle" stroke="#000" stroke-width="0.9">1541</text>
<text transform="translate(160.7,1311.5) rotate(-90)" font-size="28.3" font-family="'Liberation Sans', 'DejaVu Sans', sans-serif" text-anchor="end" stroke="#000" stroke-width="0.35" textLength="86.5" lengthAdjust="spacingAndGlyphs">Jan-20</text>
<text transform="translate(234.3,1311.5) rotate(-90)" font-size="28.3" font-family="'Liberation Sans', 'DejaVu Sans', sans-serif" text-anchor="end" stroke="#000" stroke-width="0.35" textLength="87.5" lengthAdjust="spacingAndGlyphs">Feb-20</text>
<text transform="translate(307.8,1311.5) rotate(-90)" font-size="28.3" font-family="'Liberation Sans', 'DejaVu Sans', sans-serif" text-anchor="end" stroke="#000" stroke-width="0.35" textLength="92.5" lengthAdjust="spacingAndGlyphs">Mar-20</text>
<text transform="translate(381.4,1311.5) rotate(-90)" font-size="28.3" font-family="'Liberation Sans', 'DejaVu Sans', sans-serif" text-anchor="end" stroke="#000" stroke-width="0.35" textLength="89" lengthAdjust="spacingAndGlyphs">Apr-20</text>
<text transform="translate(454.9,1311.5) rotate(-90)" font-size="28.3" font-family="'Liberation Sans', 'DejaVu Sans', sans-serif" text-anchor="end" stroke="#000" stroke-width="0.35" textLength="94" lengthAdjust="spacingAndGlyphs">May-20</text>
<text transform="translate(528.5,1311.5) rotate(-90)" font-size="28.3" font-family="'Liberation Sans', 'DejaVu Sans', sans-serif" text-anchor="end" stroke="#000" stroke-width="0.35" textLength="84" lengthAdjust="spacingAndGlyphs">Jun-20</text>
<text transform="translate(602,1311.5) rotate(-90)" font-size="28.3" font-family="'Liberation Sans', 'DejaVu Sans', sans-serif" text-anchor="end" stroke="#000" stroke-width="0.35" textLength="74.1" lengthAdjust="spacingAndGlyphs">Jul-20</text>
<text transform="translate(675.6,1311.5) rotate(-90)" font-size="28.3" font-family="'Liberation Sans', 'DejaVu Sans', sans-serif" text-anchor="end" stroke="#000" stroke-width="0.35" textLength="91.5" lengthAdjust="spacingAndGlyphs">Aug-20</text>
<text transform="translate(749.1,1311.5) rotate(-90)" font-size="28.3" font-family="'Liberation Sans', 'DejaVu Sans', sans-serif" text-anchor="end" stroke="#000" stroke-width="0.35" textLength="89" lengthAdjust="spacingAndGlyphs">Sep-20</text>
<text transform="translate(822.7,1311.5) rotate(-90)" font-size="28.3" font-family="'Liberation Sans', 'DejaVu Sans', sans-serif" text-anchor="end" stroke="#000" stroke-width="0.35" textLength="89" lengthAdjust="spacingAndGlyphs">Oct-20</text>
<text transform="translate(896.2,1311.5) rotate(-90)" font-size="28.3" font-family="'Liberation Sans', 'DejaVu Sans', sans-serif" text-anchor="end" stroke="#000" stroke-width="0.35" textLength="91.5" lengthAdjust="spacingAndGlyphs">Nov-20</text>
<text transform="translate(969.8,1311.5) rotate(-90)" font-size="28.3" font-family="'Liberation Sans', 'DejaVu Sans', sans-serif" text-anchor="end" stroke="#000" stroke-width="0.35" textLength="89.2" lengthAdjust="spacingAndGlyphs">Dec-20</text>
<text transform="translate(1043.3,1315.5) rotate(-90)" font-size="28.3" font-family="'Liberation Sans', 'DejaVu Sans', sans-serif" text-anchor="end" stroke="#000" stroke-width="0.35" textLength="78.5" lengthAdjust="spacingAndGlyphs">Jan-21</text>
<text transform="translate(1116.9,1315.5) rotate(-90)" font-size="28.3" font-family="'Liberation Sans', 'DejaVu Sans', sans-serif" text-anchor="end" stroke="#000" stroke-width="0.35" textLength="82.5" lengthAdjust="spacingAndGlyphs">Feb-21</text>
<text transform="translate(1190.4,1315.5) rotate(-90)" font-size="28.3" font-family="'Liberation Sans', 'DejaVu Sans', sans-serif" text-anchor="end" stroke="#000" stroke-width="0.35" textLength="88.5" lengthAdjust="spacingAndGlyphs">Mar-21</text>
<text transform="translate(1264,1315.5) rotate(-90)" font-size="28.3" font-family="'Liberation Sans', 'DejaVu Sans', sans-serif" text-anchor="end" stroke="#000" stroke-width="0.35" textLength="83.5" lengthAdjust="spacingAndGlyphs">Apr-21</text>
<text transform="translate(1337.5,1315.5) rotate(-90)" font-size="28.3" font-family="'Liberation Sans', 'DejaVu Sans', sans-serif" text-anchor="end" stroke="#000" stroke-width="0.35" textLength="91" lengthAdjust="spacingAndGlyphs">May-21</text>
<text transform="translate(1411.1,1315.5) rotate(-90)" font-size="28.3" font-family="'Liberation Sans', 'DejaVu Sans', sans-serif" text-anchor="end" stroke="#000" stroke-width="0.35" textLength="81" lengthAdjust="spacingAndGlyphs">Jun-21</text>
<text transform="translate(1484.6,1315.5) rotate(-90)" font-size="28.3" font-family="'Liberation Sans', 'DejaVu Sans', sans-serif" text-anchor="end" stroke="#000" stroke-width="0.35" textLength="71.5" lengthAdjust="spacingAndGlyphs">Jul-21</text>
<text transform="translate(1558.2,1315.5) rotate(-90)" font-size="28.3" font-family="'Liberation Sans', 'DejaVu Sans', sans-serif" text-anchor="end" stroke="#000" stroke-width="0.35" textLength="87.5" lengthAdjust="spacingAndGlyphs">Aug-21</text>
<text transform="translate(1631.7,1315.5) rotate(-90)" font-size="28.3" font-family="'Liberation Sans', 'DejaVu Sans', sans-serif" text-anchor="end" stroke="#000" stroke-width="0.35" textLength="85" lengthAdjust="spacingAndGlyphs">Sep-21</text>
<line x1="719" y1="1201.2" x2="737" y2="1201.2" stroke="#000" stroke-width="5.2" stroke-linecap="round"/>
<line x1="793" y1="1201.2" x2="810" y2="1201.2" stroke="#000" stroke-width="5.2" stroke-linecap="round"/>
<circle cx="764.8" cy="1201.2" r="8.3" fill="#4676cc" stroke="#1848c8" stroke-width="2"/>
<text x="827.3" y="1210.1" font-size="24.4" font-family="'DejaVu Sans', 'Liberation Sans', sans-serif" fill="#000" text-anchor="start" textLength="121.7" lengthAdjust="spacingAndGlyphs" stroke="#000" stroke-width="0.5">Deliveries</text>
<line x1="1100" y1="1201.3" x2="1191" y2="1201.3" stroke="#000" stroke-width="5" stroke-linecap="round"/>
<circle cx="1144.4" cy="1201.3" r="8.4" fill="#ed7d31" stroke="#e2640e" stroke-width="1.8"/>
<text x="1198" y="1210.1" font-size="24.4" font-family="'DejaVu Sans', 'Liberation Sans', sans-serif" fill="#000" text-anchor="start" textLength="210" lengthAdjust="spacingAndGlyphs" stroke="#000" stroke-width="0.5">AN Registrations</text>
<text x="465.3" y="1473.7" font-size="43" font-family="'Liberation Sans', 'DejaVu Sans', sans-serif" fill="#c00000" text-anchor="start" font-weight="bold" textLength="1167.5" lengthAdjust="spacingAndGlyphs">Monthly stillbirths (singleton, &gt; 28 weeks) at the institute</text>
<line x1="125" y1="1789.9" x2="328.5" y2="1789.9" stroke="#c6c6c6" stroke-width="2.5"/>
<line x1="339" y1="1789.9" x2="483.5" y2="1789.9" stroke="#c6c6c6" stroke-width="2.5"/>
<line x1="494" y1="1789.9" x2="1247" y2="1789.9" stroke="#c6c6c6" stroke-width="2.5"/>
<line x1="1258.5" y1="1789.9" x2="1393" y2="1789.9" stroke="#c6c6c6" stroke-width="2.5"/>
<line x1="1404" y1="1789.9" x2="1652" y2="1789.9" stroke="#c6c6c6" stroke-width="2.5"/>
<line x1="125" y1="1715.1" x2="328.5" y2="1715.1" stroke="#c6c6c6" stroke-width="2.5"/>
<line x1="339" y1="1715.1" x2="483.5" y2="1715.1" stroke="#c6c6c6" stroke-width="2.5"/>
<line x1="494" y1="1715.1" x2="1247" y2="1715.1" stroke="#c6c6c6" stroke-width="2.5"/>
<line x1="1258.5" y1="1715.1" x2="1393" y2="1715.1" stroke="#c6c6c6" stroke-width="2.5"/>
<line x1="1404" y1="1715.1" x2="1652" y2="1715.1" stroke="#c6c6c6" stroke-width="2.5"/>
<line x1="125" y1="1640.6" x2="328.5" y2="1640.6" stroke="#c6c6c6" stroke-width="2.5"/>
<line x1="339" y1="1640.6" x2="483.5" y2="1640.6" stroke="#c6c6c6" stroke-width="2.5"/>
<line x1="494" y1="1640.6" x2="1247" y2="1640.6" stroke="#c6c6c6" stroke-width="2.5"/>
<line x1="1258.5" y1="1640.6" x2="1393" y2="1640.6" stroke="#c6c6c6" stroke-width="2.5"/>
<line x1="1404" y1="1640.6" x2="1652" y2="1640.6" stroke="#c6c6c6" stroke-width="2.5"/>
<line x1="125" y1="1566" x2="328.5" y2="1566" stroke="#c6c6c6" stroke-width="2.5"/>
<line x1="339" y1="1566" x2="483.5" y2="1566" stroke="#c6c6c6" stroke-width="2.5"/>
<line x1="494" y1="1566" x2="1247" y2="1566" stroke="#c6c6c6" stroke-width="2.5"/>
<line x1="1258.5" y1="1566" x2="1393" y2="1566" stroke="#c6c6c6" stroke-width="2.5"/>
<line x1="1404" y1="1566" x2="1652" y2="1566" stroke="#c6c6c6" stroke-width="2.5"/>
<line x1="125" y1="1494.9" x2="328.5" y2="1494.9" stroke="#c6c6c6" stroke-width="2.5"/>
<line x1="339" y1="1494.9" x2="483.5" y2="1494.9" stroke="#c6c6c6" stroke-width="2.5"/>
<line x1="494" y1="1494.9" x2="1247" y2="1494.9" stroke="#c6c6c6" stroke-width="2.5"/>
<line x1="1258.5" y1="1494.9" x2="1393" y2="1494.9" stroke="#c6c6c6" stroke-width="2.5"/>
<line x1="1404" y1="1494.9" x2="1652" y2="1494.9" stroke="#c6c6c6" stroke-width="2.5"/>
<rect x="130.2" y="1747.9" width="65" height="40.1" fill="#fff"/>
<rect x="140.7" y="1758.4" width="44" height="31.1" fill="#d9d9d9"/>
<path d="M135.2,1789 V1752.9 H190.2 V1789" fill="none" stroke="#000" stroke-width="3.7" stroke-linejoin="miter"/>
<text x="162.7" y="1725.6" font-size="25" font-family="'DejaVu Sans', 'Liberation Sans', sans-serif" fill="#000" text-anchor="middle" stroke="#000" stroke-width="0.5">1</text>
<rect x="202.9" y="1527.9" width="65" height="260.1" fill="#fff"/>
<rect x="213.4" y="1538.4" width="44" height="251.1" fill="#d9d9d9"/>
<path d="M207.9,1789 V1532.9 H262.9 V1789" fill="none" stroke="#000" stroke-width="3.7" stroke-linejoin="miter"/>
<text x="235.4" y="1505.6" font-size="25" font-family="'DejaVu Sans', 'Liberation Sans', sans-serif" fill="#000" text-anchor="middle" stroke="#000" stroke-width="0.5">7</text>
<rect x="275.6" y="1674.5" width="65" height="113.5" fill="#fff"/>
<rect x="286.1" y="1685" width="44" height="104.5" fill="#d9d9d9"/>
<path d="M280.6,1789 V1679.5 H335.6 V1789" fill="none" stroke="#000" stroke-width="3.7" stroke-linejoin="miter"/>
<text x="308.1" y="1652.3" font-size="25" font-family="'DejaVu Sans', 'Liberation Sans', sans-serif" fill="#000" text-anchor="middle" stroke="#000" stroke-width="0.5">3</text>
<text x="380.8" y="1763.1" font-size="25" font-family="'DejaVu Sans', 'Liberation Sans', sans-serif" fill="#000" text-anchor="middle" stroke="#000" stroke-width="0.5">0</text>
<text x="453.6" y="1763.1" font-size="25" font-family="'DejaVu Sans', 'Liberation Sans', sans-serif" fill="#000" text-anchor="middle" stroke="#000" stroke-width="0.5">0</text>
<rect x="493.8" y="1527.9" width="65" height="260.1" fill="#fff"/>
<rect x="504.3" y="1538.4" width="44" height="251.1" fill="#d9d9d9"/>
<path d="M498.8,1789 V1532.9 H553.8 V1789" fill="none" stroke="#000" stroke-width="3.7" stroke-linejoin="miter"/>
<text x="526.3" y="1505.6" font-size="25" font-family="'DejaVu Sans', 'Liberation Sans', sans-serif" fill="#000" text-anchor="middle" stroke="#000" stroke-width="0.5">7</text>
<rect x="566.5" y="1601.2" width="65" height="186.8" fill="#fff"/>
<rect x="577" y="1611.7" width="44" height="177.8" fill="#d9d9d9"/>
<path d="M571.5,1789 V1606.2 H626.5 V1789" fill="none" stroke="#000" stroke-width="3.7" stroke-linejoin="miter"/>
<text x="599" y="1578.9" font-size="25" font-family="'DejaVu Sans', 'Liberation Sans', sans-serif" fill="#000" text-anchor="middle" stroke="#000" stroke-width="0.5">5</text>
<rect x="639.3" y="1711.2" width="65" height="76.8" fill="#fff"/>
<rect x="649.8" y="1721.7" width="44" height="67.8" fill="#d9d9d9"/>
<path d="M644.3,1789 V1716.2 H699.3 V1789" fill="none" stroke="#000" stroke-width="3.7" stroke-linejoin="miter"/>
<text x="671.8" y="1689" font-size="25" font-family="'DejaVu Sans', 'Liberation Sans', sans-serif" fill="#000" text-anchor="middle" stroke="#000" stroke-width="0.5">2</text>
<rect x="712" y="1674.5" width="65" height="113.5" fill="#fff"/>
<rect x="722.5" y="1685" width="44" height="104.5" fill="#d9d9d9"/>
<path d="M717,1789 V1679.5 H772 V1789" fill="none" stroke="#000" stroke-width="3.7" stroke-linejoin="miter"/>
<text x="744.5" y="1652.3" font-size="25" font-family="'DejaVu Sans', 'Liberation Sans', sans-serif" fill="#000" text-anchor="middle" stroke="#000" stroke-width="0.5">3</text>
<rect x="784.7" y="1711.2" width="65" height="76.8" fill="#fff"/>
<rect x="795.2" y="1721.7" width="44" height="67.8" fill="#d9d9d9"/>
<path d="M789.7,1789 V1716.2 H844.7 V1789" fill="none" stroke="#000" stroke-width="3.7" stroke-linejoin="miter"/>
<text x="817.2" y="1689" font-size="25" font-family="'DejaVu Sans', 'Liberation Sans', sans-serif" fill="#000" text-anchor="middle" stroke="#000" stroke-width="0.5">2</text>
<text x="890" y="1763.1" font-size="25" font-family="'DejaVu Sans', 'Liberation Sans', sans-serif" fill="#000" text-anchor="middle" stroke="#000" stroke-width="0.5">0</text>
<rect x="930.2" y="1711.2" width="65" height="76.8" fill="#fff"/>
<rect x="940.7" y="1721.7" width="44" height="67.8" fill="#d9d9d9"/>
<path d="M935.2,1789 V1716.2 H990.2 V1789" fill="none" stroke="#000" stroke-width="3.7" stroke-linejoin="miter"/>
<text x="962.7" y="1689" font-size="25" font-family="'DejaVu Sans', 'Liberation Sans', sans-serif" fill="#000" text-anchor="middle" stroke="#000" stroke-width="0.5">2</text>
<rect x="1002.9" y="1711.2" width="65" height="76.8" fill="#fff"/>
<rect x="1013.4" y="1721.7" width="44" height="67.8" fill="#d9d9d9"/>
<path d="M1007.9,1789 V1716.2 H1062.9 V1789" fill="none" stroke="#000" stroke-width="3.7" stroke-linejoin="miter"/>
<text x="1035.4" y="1689" font-size="25" font-family="'DejaVu Sans', 'Liberation Sans', sans-serif" fill="#000" text-anchor="middle" stroke="#000" stroke-width="0.5">2</text>
<rect x="1075.6" y="1747.9" width="65" height="40.1" fill="#fff"/>
<rect x="1086.1" y="1758.4" width="44" height="31.1" fill="#d9d9d9"/>
<path d="M1080.6,1789 V1752.9 H1135.6 V1789" fill="none" stroke="#000" stroke-width="3.7" stroke-linejoin="miter"/>
<text x="1108.1" y="1725.6" font-size="25" font-family="'DejaVu Sans', 'Liberation Sans', sans-serif" fill="#000" text-anchor="middle" stroke="#000" stroke-width="0.5">1</text>
<rect x="1148.4" y="1674.5" width="65" height="113.5" fill="#fff"/>
<rect x="1158.9" y="1685" width="44" height="104.5" fill="#d9d9d9"/>
<path d="M1153.4,1789 V1679.5 H1208.4 V1789" fill="none" stroke="#000" stroke-width="3.7" stroke-linejoin="miter"/>
<text x="1180.9" y="1652.3" font-size="25" font-family="'DejaVu Sans', 'Liberation Sans', sans-serif" fill="#000" text-anchor="middle" stroke="#000" stroke-width="0.5">3</text>
<rect x="1221.1" y="1711.2" width="65" height="76.8" fill="#fff"/>
<rect x="1231.6" y="1721.7" width="44" height="67.8" fill="#d9d9d9"/>
<path d="M1226.1,1789 V1716.2 H1281.1 V1789" fill="none" stroke="#000" stroke-width="3.7" stroke-linejoin="miter"/>
<text x="1253.6" y="1689" font-size="25" font-family="'DejaVu Sans', 'Liberation Sans', sans-serif" fill="#000" text-anchor="middle" stroke="#000" stroke-width="0.5">2</text>
<rect x="1293.8" y="1747.9" width="65" height="40.1" fill="#fff"/>
<rect x="1304.3" y="1758.4" width="44" height="31.1" fill="#d9d9d9"/>
<path d="M1298.8,1789 V1752.9 H1353.8 V1789" fill="none" stroke="#000" stroke-width="3.7" stroke-linejoin="miter"/>
<text x="1326.3" y="1725.6" font-size="25" font-family="'DejaVu Sans', 'Liberation Sans', sans-serif" fill="#000" text-anchor="middle" stroke="#000" stroke-width="0.5">1</text>
<rect x="1366.6" y="1747.9" width="65" height="40.1" fill="#fff"/>
<rect x="1377.1" y="1758.4" width="44" height="31.1" fill="#d9d9d9"/>
<path d="M1371.6,1789 V1752.9 H1426.6 V1789" fill="none" stroke="#000" stroke-width="3.7" stroke-linejoin="miter"/>
<text x="1399.1" y="1725.6" font-size="25" font-family="'DejaVu Sans', 'Liberation Sans', sans-serif" fill="#000" text-anchor="middle" stroke="#000" stroke-width="0.5">1</text>
<rect x="1439.3" y="1747.9" width="65" height="40.1" fill="#fff"/>
<rect x="1449.8" y="1758.4" width="44" height="31.1" fill="#d9d9d9"/>
<path d="M1444.3,1789 V1752.9 H1499.3 V1789" fill="none" stroke="#000" stroke-width="3.7" stroke-linejoin="miter"/>
<text x="1471.8" y="1725.6" font-size="25" font-family="'DejaVu Sans', 'Liberation Sans', sans-serif" fill="#000" text-anchor="middle" stroke="#000" stroke-width="0.5">1</text>
<rect x="1512" y="1747.9" width="65" height="40.1" fill="#fff"/>
<rect x="1522.5" y="1758.4" width="44" height="31.1" fill="#d9d9d9"/>
<path d="M1517,1789 V1752.9 H1572 V1789" fill="none" stroke="#000" stroke-width="3.7" stroke-linejoin="miter"/>
<text x="1544.5" y="1725.6" font-size="25" font-family="'DejaVu Sans', 'Liberation Sans', sans-serif" fill="#000" text-anchor="middle" stroke="#000" stroke-width="0.5">1</text>
<rect x="1584.8" y="1711.2" width="65" height="76.8" fill="#fff"/>
<rect x="1595.3" y="1721.7" width="44" height="67.8" fill="#d9d9d9"/>
<path d="M1589.8,1789 V1716.2 H1644.8 V1789" fill="none" stroke="#000" stroke-width="3.7" stroke-linejoin="miter"/>
<text x="1617.3" y="1689" font-size="25" font-family="'DejaVu Sans', 'Liberation Sans', sans-serif" fill="#000" text-anchor="middle" stroke="#000" stroke-width="0.5">2</text>
<rect x="815.4" y="1544.4" width="15" height="14.5" fill="#e6e6e6" stroke="#000" stroke-width="3.4"/>
<text x="840" y="1558.5" font-size="25" font-family="'DejaVu Sans', 'Liberation Sans', sans-serif" fill="#000" text-anchor="start" textLength="372.4" lengthAdjust="spacingAndGlyphs" stroke="#000" stroke-width="0.5">Monthly number of stillbirths</text>
<text transform="translate(172.3,1806.7) rotate(-90)" font-size="28" font-family="'Liberation Sans', 'DejaVu Sans', sans-serif" text-anchor="end" stroke="#000" stroke-width="0.35" textLength="83.5" lengthAdjust="spacingAndGlyphs">Jan-20</text>
<text transform="translate(245,1806.7) rotate(-90)" font-size="28" font-family="'Liberation Sans', 'DejaVu Sans', sans-serif" text-anchor="end" stroke="#000" stroke-width="0.35" textLength="84.4" lengthAdjust="spacingAndGlyphs">Feb-20</text>
<text transform="translate(317.7,1806.7) rotate(-90)" font-size="28" font-family="'Liberation Sans', 'DejaVu Sans', sans-serif" text-anchor="end" stroke="#000" stroke-width="0.35" textLength="89.3" lengthAdjust="spacingAndGlyphs">Mar-20</text>
<text transform="translate(390.5,1806.7) rotate(-90)" font-size="28" font-family="'Liberation Sans', 'DejaVu Sans', sans-serif" text-anchor="end" stroke="#000" stroke-width="0.35" textLength="85.9" lengthAdjust="spacingAndGlyphs">Apr-20</text>
<text transform="translate(462.2,1789.5) rotate(-90)" font-size="28" font-family="'Liberation Sans', 'DejaVu Sans', sans-serif" text-anchor="end" stroke="#000" stroke-width="0.35" textLength="79" lengthAdjust="spacingAndGlyphs">May-...</text>
<text transform="translate(535.9,1806.7) rotate(-90)" font-size="28" font-family="'Liberation Sans', 'DejaVu Sans', sans-serif" text-anchor="end" stroke="#000" stroke-width="0.35" textLength="81.1" lengthAdjust="spacingAndGlyphs">Jun-20</text>
<text transform="translate(608.7,1806.7) rotate(-90)" font-size="28" font-family="'Liberation Sans', 'DejaVu Sans', sans-serif" text-anchor="end" stroke="#000" stroke-width="0.35" textLength="71.5" lengthAdjust="spacingAndGlyphs">Jul-20</text>
<text transform="translate(681.4,1806.7) rotate(-90)" font-size="28" font-family="'Liberation Sans', 'DejaVu Sans', sans-serif" text-anchor="end" stroke="#000" stroke-width="0.35" textLength="88.3" lengthAdjust="spacingAndGlyphs">Aug-20</text>
<text transform="translate(754.1,1806.7) rotate(-90)" font-size="28" font-family="'Liberation Sans', 'DejaVu Sans', sans-serif" text-anchor="end" stroke="#000" stroke-width="0.35" textLength="85.9" lengthAdjust="spacingAndGlyphs">Sep-20</text>
<text transform="translate(826.9,1806.7) rotate(-90)" font-size="28" font-family="'Liberation Sans', 'DejaVu Sans', sans-serif" text-anchor="end" stroke="#000" stroke-width="0.35" textLength="85.9" lengthAdjust="spacingAndGlyphs">Oct-20</text>
<text transform="translate(899.6,1806.7) rotate(-90)" font-size="28" font-family="'Liberation Sans', 'DejaVu Sans', sans-serif" text-anchor="end" stroke="#000" stroke-width="0.35" textLength="88.3" lengthAdjust="spacingAndGlyphs">Nov-20</text>
<text transform="translate(972.3,1806.7) rotate(-90)" font-size="28" font-family="'Liberation Sans', 'DejaVu Sans', sans-serif" text-anchor="end" stroke="#000" stroke-width="0.35" textLength="86.1" lengthAdjust="spacingAndGlyphs">Dec-20</text>
<text transform="translate(1045,1810.7) rotate(-90)" font-size="28" font-family="'Liberation Sans', 'DejaVu Sans', sans-serif" text-anchor="end" stroke="#000" stroke-width="0.35" textLength="75.8" lengthAdjust="spacingAndGlyphs">Jan-21</text>
<text transform="translate(1117.8,1810.7) rotate(-90)" font-size="28" font-family="'Liberation Sans', 'DejaVu Sans', sans-serif" text-anchor="end" stroke="#000" stroke-width="0.35" textLength="79.6" lengthAdjust="spacingAndGlyphs">Feb-21</text>
<text transform="translate(1190.5,1810.7) rotate(-90)" font-size="28" font-family="'Liberation Sans', 'DejaVu Sans', sans-serif" text-anchor="end" stroke="#000" stroke-width="0.35" textLength="85.4" lengthAdjust="spacingAndGlyphs">Mar-21</text>
<text transform="translate(1263.2,1810.7) rotate(-90)" font-size="28" font-family="'Liberation Sans', 'DejaVu Sans', sans-serif" text-anchor="end" stroke="#000" stroke-width="0.35" textLength="80.6" lengthAdjust="spacingAndGlyphs">Apr-21</text>
<text transform="translate(1335,1789.5) rotate(-90)" font-size="28" font-family="'Liberation Sans', 'DejaVu Sans', sans-serif" text-anchor="end" stroke="#000" stroke-width="0.35" textLength="79" lengthAdjust="spacingAndGlyphs">May-...</text>
<text transform="translate(1408.7,1810.7) rotate(-90)" font-size="28" font-family="'Liberation Sans', 'DejaVu Sans', sans-serif" text-anchor="end" stroke="#000" stroke-width="0.35" textLength="78.2" lengthAdjust="spacingAndGlyphs">Jun-21</text>
<text transform="translate(1481.4,1810.7) rotate(-90)" font-size="28" font-family="'Liberation Sans', 'DejaVu Sans', sans-serif" text-anchor="end" stroke="#000" stroke-width="0.35" textLength="69" lengthAdjust="spacingAndGlyphs">Jul-21</text>
<text transform="translate(1554.2,1810.7) rotate(-90)" font-size="28" font-family="'Liberation Sans', 'DejaVu Sans', sans-serif" text-anchor="end" stroke="#000" stroke-width="0.35" textLength="84.4" lengthAdjust="spacingAndGlyphs">Aug-21</text>
<text transform="translate(1626.9,1810.7) rotate(-90)" font-size="28" font-family="'Liberation Sans', 'DejaVu Sans', sans-serif" text-anchor="end" stroke="#000" stroke-width="0.35" textLength="82" lengthAdjust="spacingAndGlyphs">Sep-21</text>
<text x="123.6" y="1976.5" font-size="43" font-family="'Liberation Sans', 'DejaVu Sans', sans-serif" fill="#c00000" text-anchor="start" font-weight="bold" textLength="526" lengthAdjust="spacingAndGlyphs">Daily covid 19 cases, India</text>
<line x1="206" y1="2329.3" x2="328.5" y2="2329.3" stroke="#e4e4e4" stroke-width="2" stroke-dasharray="6 6.4"/>
<line x1="339" y1="2329.3" x2="483.5" y2="2329.3" stroke="#e4e4e4" stroke-width="2" stroke-dasharray="6 6.4"/>
<line x1="494" y1="2329.3" x2="1247" y2="2329.3" stroke="#e4e4e4" stroke-width="2" stroke-dasharray="6 6.4"/>
<line x1="1258.5" y1="2329.3" x2="1393" y2="2329.3" stroke="#e4e4e4" stroke-width="2" stroke-dasharray="6 6.4"/>
<line x1="1404" y1="2329.3" x2="1716" y2="2329.3" stroke="#e4e4e4" stroke-width="2" stroke-dasharray="6 6.4"/>
<line x1="206" y1="2277" x2="328.5" y2="2277" stroke="#e4e4e4" stroke-width="2" stroke-dasharray="6 6.4"/>
<line x1="339" y1="2277" x2="483.5" y2="2277" stroke="#e4e4e4" stroke-width="2" stroke-dasharray="6 6.4"/>
<line x1="494" y1="2277" x2="1247" y2="2277" stroke="#e4e4e4" stroke-width="2" stroke-dasharray="6 6.4"/>
<line x1="1258.5" y1="2277" x2="1393" y2="2277" stroke="#e4e4e4" stroke-width="2" stroke-dasharray="6 6.4"/>
<line x1="1404" y1="2277" x2="1716" y2="2277" stroke="#e4e4e4" stroke-width="2" stroke-dasharray="6 6.4"/>
<line x1="206" y1="2224.1" x2="328.5" y2="2224.1" stroke="#e4e4e4" stroke-width="2" stroke-dasharray="6 6.4"/>
<line x1="339" y1="2224.1" x2="483.5" y2="2224.1" stroke="#e4e4e4" stroke-width="2" stroke-dasharray="6 6.4"/>
<line x1="494" y1="2224.1" x2="1247" y2="2224.1" stroke="#e4e4e4" stroke-width="2" stroke-dasharray="6 6.4"/>
<line x1="1258.5" y1="2224.1" x2="1393" y2="2224.1" stroke="#e4e4e4" stroke-width="2" stroke-dasharray="6 6.4"/>
<line x1="1404" y1="2224.1" x2="1716" y2="2224.1" stroke="#e4e4e4" stroke-width="2" stroke-dasharray="6 6.4"/>
<line x1="206" y1="2171.6" x2="328.5" y2="2171.6" stroke="#e4e4e4" stroke-width="2" stroke-dasharray="6 6.4"/>
<line x1="339" y1="2171.6" x2="483.5" y2="2171.6" stroke="#e4e4e4" stroke-width="2" stroke-dasharray="6 6.4"/>
<line x1="494" y1="2171.6" x2="1247" y2="2171.6" stroke="#e4e4e4" stroke-width="2" stroke-dasharray="6 6.4"/>
<line x1="1258.5" y1="2171.6" x2="1393" y2="2171.6" stroke="#e4e4e4" stroke-width="2" stroke-dasharray="6 6.4"/>
<line x1="1404" y1="2171.6" x2="1716" y2="2171.6" stroke="#e4e4e4" stroke-width="2" stroke-dasharray="6 6.4"/>
<line x1="206" y1="2119.4" x2="328.5" y2="2119.4" stroke="#e4e4e4" stroke-width="2" stroke-dasharray="6 6.4"/>
<line x1="339" y1="2119.4" x2="483.5" y2="2119.4" stroke="#e4e4e4" stroke-width="2" stroke-dasharray="6 6.4"/>
<line x1="494" y1="2119.4" x2="1247" y2="2119.4" stroke="#e4e4e4" stroke-width="2" stroke-dasharray="6 6.4"/>
<line x1="1258.5" y1="2119.4" x2="1393" y2="2119.4" stroke="#e4e4e4" stroke-width="2" stroke-dasharray="6 6.4"/>
<line x1="1404" y1="2119.4" x2="1716" y2="2119.4" stroke="#e4e4e4" stroke-width="2" stroke-dasharray="6 6.4"/>
<line x1="206" y1="2067.5" x2="328.5" y2="2067.5" stroke="#e4e4e4" stroke-width="2" stroke-dasharray="6 6.4"/>
<line x1="339" y1="2067.5" x2="483.5" y2="2067.5" stroke="#e4e4e4" stroke-width="2" stroke-dasharray="6 6.4"/>
<line x1="494" y1="2067.5" x2="1247" y2="2067.5" stroke="#e4e4e4" stroke-width="2" stroke-dasharray="6 6.4"/>
<line x1="1258.5" y1="2067.5" x2="1393" y2="2067.5" stroke="#e4e4e4" stroke-width="2" stroke-dasharray="6 6.4"/>
<line x1="1404" y1="2067.5" x2="1716" y2="2067.5" stroke="#e4e4e4" stroke-width="2" stroke-dasharray="6 6.4"/>
<line x1="206" y1="2015" x2="328.5" y2="2015" stroke="#e4e4e4" stroke-width="2" stroke-dasharray="6 6.4"/>
<line x1="339" y1="2015" x2="483.5" y2="2015" stroke="#e4e4e4" stroke-width="2" stroke-dasharray="6 6.4"/>
<line x1="494" y1="2015" x2="1247" y2="2015" stroke="#e4e4e4" stroke-width="2" stroke-dasharray="6 6.4"/>
<line x1="1258.5" y1="2015" x2="1393" y2="2015" stroke="#e4e4e4" stroke-width="2" stroke-dasharray="6 6.4"/>
<line x1="1404" y1="2015" x2="1716" y2="2015" stroke="#e4e4e4" stroke-width="2" stroke-dasharray="6 6.4"/>
<text x="194.6" y="2388.1" font-size="18" font-family="'Liberation Sans', 'DejaVu Sans', sans-serif" fill="#3a3a3a" text-anchor="end" textLength="19.6" lengthAdjust="spacingAndGlyphs">0</text>
<text x="194.6" y="2335.9" font-size="18" font-family="'Liberation Sans', 'DejaVu Sans', sans-serif" fill="#3a3a3a" text-anchor="end" textLength="108" lengthAdjust="spacingAndGlyphs">50,000</text>
<text x="194.6" y="2283.6" font-size="18" font-family="'Liberation Sans', 'DejaVu Sans', sans-serif" fill="#3a3a3a" text-anchor="end" textLength="126.6" lengthAdjust="spacingAndGlyphs">100,000</text>
<text x="194.6" y="2230.7" font-size="18" font-family="'Liberation Sans', 'DejaVu Sans', sans-serif" fill="#3a3a3a" text-anchor="end" textLength="126.6" lengthAdjust="spacingAndGlyphs">150,000</text>
<text x="194.6" y="2178.2" font-size="18" font-family="'Liberation Sans', 'DejaVu Sans', sans-serif" fill="#3a3a3a" text-anchor="end" textLength="126.6" lengthAdjust="spacingAndGlyphs">200,000</text>
<text x="194.6" y="2126" font-size="18" font-family="'Liberation Sans', 'DejaVu Sans', sans-serif" fill="#3a3a3a" text-anchor="end" textLength="126.6" lengthAdjust="spacingAndGlyphs">250,000</text>
<text x="194.6" y="2074.1" font-size="18" font-family="'Liberation Sans', 'DejaVu Sans', sans-serif" fill="#3a3a3a" text-anchor="end" textLength="126.6" lengthAdjust="spacingAndGlyphs">300,000</text>
<text x="194.6" y="2021.6" font-size="18" font-family="'Liberation Sans', 'DejaVu Sans', sans-serif" fill="#3a3a3a" text-anchor="end" textLength="126.6" lengthAdjust="spacingAndGlyphs">350,000</text>
<line x1="206" y1="2382" x2="328.5" y2="2382" stroke="#c8c8c8" stroke-width="2.4"/>
<line x1="339" y1="2382" x2="483.5" y2="2382" stroke="#c8c8c8" stroke-width="2.4"/>
<line x1="494" y1="2382" x2="1247" y2="2382" stroke="#c8c8c8" stroke-width="2.4"/>
<line x1="1258.5" y1="2382" x2="1393" y2="2382" stroke="#c8c8c8" stroke-width="2.4"/>
<line x1="1404" y1="2382" x2="1563" y2="2382" stroke="#c8c8c8" stroke-width="2.4"/>
<line x1="1699" y1="2382" x2="1716" y2="2382" stroke="#c8c8c8" stroke-width="2.4"/>
<line x1="632.6" y1="2382" x2="632.6" y2="2386" stroke="#999" stroke-width="2"/>
<line x1="898.5" y1="2382" x2="898.5" y2="2386" stroke="#999" stroke-width="2"/>
<line x1="1164.4" y1="2382" x2="1164.4" y2="2386" stroke="#999" stroke-width="2"/>
<line x1="1432" y1="2382" x2="1432" y2="2386" stroke="#999" stroke-width="2"/>
<path d="M206,2381.8 C215,2381.7 238.8,2381.6 260,2381.2 C281.2,2380.8 312,2380.2 333,2379.6 C354,2379 366.8,2378.8 386,2377.8 C405.2,2376.8 432.3,2374.7 448,2373.5 C463.7,2372.3 472.2,2371 480,2370.4 C487.8,2369.8 488.7,2370.8 494.9,2369.8 C501.1,2368.8 509.8,2365.8 517.2,2364.2 C524.7,2362.6 532.2,2362.1 539.6,2360.5 C547,2358.9 555,2357.1 561.9,2354.5 C568.8,2351.9 576,2347.9 581.2,2344.9 C586.4,2341.9 588.9,2339.3 593.1,2336.7 C597.3,2334.1 601.8,2331.1 606.5,2329.2 C611.2,2327.3 615.2,2327.5 621.4,2325.5 C627.6,2323.5 638.1,2318.7 643.8,2317.3 C649.5,2315.9 650.8,2317.6 655.7,2316.9 C660.7,2316.2 668.5,2314.5 673.5,2312.9 C678.5,2311.3 681.4,2309.8 685.4,2307.6 C689.4,2305.4 693.7,2301.5 697.4,2299.5 C701.1,2297.5 703.8,2297.8 707.8,2295.7 C711.8,2293.6 716.7,2288.7 721.7,2286.7 C726.7,2284.7 733,2283.7 737.6,2283.7 C742.2,2283.7 745.5,2285.2 749.5,2286.7 C753.5,2288.2 756.8,2291.2 761.4,2292.7 C766,2294.2 771.7,2293.7 777.3,2295.7 C782.9,2297.7 789.5,2302.1 795.1,2304.6 C800.7,2307.1 805,2307.5 811,2310.5 C817,2313.5 824.3,2318.8 830.9,2322.5 C837.5,2326.2 841.4,2331.2 850.7,2333 C860,2334.8 877.9,2331.8 886.5,2333 C895.1,2334.2 897,2339.8 902.3,2340.3 C907.6,2340.8 913.6,2336.5 918.2,2335.8 C922.8,2335.2 924.7,2334.8 930,2336.4 C935.3,2338 942,2342.3 950,2345.3 C958,2348.3 969.5,2352.2 977.8,2354.2 C986.1,2356.1 993.2,2355.9 1000,2357 C1006.8,2358.1 1014.9,2360.5 1018.6,2360.7 C1022.4,2360.9 1021.3,2357.9 1022.5,2358 C1023.7,2358.1 1023.1,2359.6 1026,2361 C1028.9,2362.4 1034.4,2365.9 1040,2366.3 C1045.6,2366.7 1054.5,2363.3 1059.6,2363.5 C1064.7,2363.7 1062.6,2366.8 1070.7,2367.6 C1078.8,2368.4 1100.5,2367.8 1108,2368.2 C1115.5,2368.6 1109.2,2369.7 1115.4,2370 C1121.6,2370.3 1136.3,2370.5 1145,2370 C1153.7,2369.5 1161.3,2367.9 1167.5,2366.9 C1173.7,2365.9 1177,2364.2 1182.4,2364 C1187.8,2363.8 1196,2365.8 1200,2365.4 C1204,2365 1204,2362.6 1206.3,2361.4 C1208.6,2360.2 1211.5,2359.7 1214.1,2358.3 C1216.7,2356.9 1219,2355.3 1221.9,2352.8 C1224.8,2350.3 1227.9,2346.7 1231.3,2343.4 C1234.7,2340.1 1239,2336.6 1242.3,2333.2 C1245.6,2329.8 1248,2325.8 1250.9,2323 C1253.8,2320.2 1257,2318.9 1259.6,2316.3 C1262.2,2313.7 1264.5,2310.5 1266.6,2307.2 C1268.7,2303.9 1270.6,2300.2 1272.1,2296.4 C1273.6,2292.6 1274.5,2288.9 1275.7,2284.6 C1276.9,2280.3 1278.2,2275.1 1279.4,2270.5 C1280.6,2265.9 1281.8,2261.6 1283.1,2257.2 C1284.4,2252.8 1285.7,2248.2 1287,2243.9 C1288.3,2239.6 1289.6,2236 1290.9,2231.3 C1292.2,2226.7 1293.3,2222.3 1294.6,2216 C1295.9,2209.7 1297.5,2201.8 1298.9,2193.7 C1300.3,2185.6 1301.6,2175.8 1302.9,2167.3 C1304.2,2158.8 1305.4,2150.6 1306.6,2142.9 C1307.8,2135.2 1309,2128.3 1310.2,2121.2 C1311.4,2114.1 1312.7,2107.2 1313.9,2100.2 C1315.1,2093.2 1316.4,2085.8 1317.6,2079.3 C1318.8,2072.8 1320,2066.9 1321.3,2061.2 C1322.6,2055.5 1323.8,2050.4 1325.2,2044.9 C1326.6,2039.4 1328.2,2033.9 1329.8,2028.3 C1331.4,2022.7 1333,2016.6 1334.6,2011.2 C1336.2,2005.8 1337.7,1999.8 1339.5,1996 C1341.3,1992.2 1343.4,1991.6 1345.6,1988.5 C1347.8,1985.4 1350.3,1980.2 1352.5,1977.5 C1354.7,1974.8 1356.6,1973.2 1358.5,1972.4 C1360.4,1971.6 1362.2,1971.2 1363.9,1972.8 C1365.6,1974.4 1367.4,1978.2 1368.8,1982 C1370.2,1985.8 1371,1989.9 1372.4,1995.4 C1373.8,2000.9 1375.6,2008.6 1377,2014.9 C1378.4,2021.2 1379.6,2026.5 1381,2033 C1382.4,2039.5 1384,2046.7 1385.6,2054 C1387.2,2061.3 1388.7,2069.2 1390.5,2076.6 C1392.3,2084 1394.8,2091.6 1396.6,2098.5 C1398.4,2105.4 1399.9,2112 1401.5,2118.3 C1403.1,2124.6 1404.7,2129.5 1406.3,2136.1 C1407.9,2142.7 1409.6,2150.7 1411.2,2157.9 C1412.8,2165.1 1414.5,2172.3 1416.1,2179.2 C1417.7,2186.1 1419.4,2192.8 1421,2199.5 C1422.6,2206.2 1424.1,2212.8 1425.9,2219.5 C1427.7,2226.2 1429.8,2233.3 1432,2240 C1434.2,2246.7 1436.7,2252.8 1439.3,2259.5 C1441.9,2266.2 1444.8,2274 1447.8,2280.5 C1450.8,2287 1454.3,2293.2 1457.6,2298.5 C1460.8,2303.8 1464,2308.4 1467.3,2312 C1470.5,2315.6 1473.5,2317.6 1477.1,2320.3 C1480.6,2323 1483.2,2325.7 1488.6,2328.2 C1494,2330.7 1500.2,2332.8 1509.5,2335.1 C1518.8,2337.4 1536,2340.7 1544.2,2342.1 C1552.5,2343.5 1556.1,2342.8 1559,2343.5 C1561.9,2344.2 1560.7,2346.6 1561.6,2346.5 C1562.5,2346.4 1562.2,2343.9 1564.5,2343 C1566.8,2342.1 1572.7,2342.5 1575.5,2341.2 C1578.3,2339.9 1579.6,2335.4 1581.6,2335.1 C1583.6,2334.8 1584.3,2338.8 1587.6,2339.5 C1590.9,2340.2 1597.2,2338.9 1601.5,2339.5 C1605.8,2340.1 1608.8,2342 1613.7,2343 C1618.6,2344 1626.1,2344.5 1631,2345.5 C1635.9,2346.5 1637.4,2350.6 1643.2,2349 C1649,2347.4 1658.5,2337.6 1665.8,2336 C1673,2334.4 1679.5,2336.9 1686.7,2339.5 C1693.9,2342.1 1704.6,2350 1709.2,2351.6 C1713.8,2353.2 1713.5,2349.4 1714.4,2349" fill="none" stroke="#14213d" stroke-width="2.5" stroke-linejoin="round" stroke-linecap="round"/>
<text x="210" y="2406" font-size="19" font-family="'Liberation Sans', 'DejaVu Sans', sans-serif" fill="#3a3a3a" text-anchor="start" textLength="183.7" lengthAdjust="spacingAndGlyphs">Mar 1, 2020</text>
<text x="542" y="2406" font-size="19" font-family="'Liberation Sans', 'DejaVu Sans', sans-serif" fill="#3a3a3a" text-anchor="start" textLength="182.3" lengthAdjust="spacingAndGlyphs">Aug 8, 2020</text>
<text x="797" y="2406" font-size="19" font-family="'Liberation Sans', 'DejaVu Sans', sans-serif" fill="#3a3a3a" text-anchor="start" textLength="205" lengthAdjust="spacingAndGlyphs">Nov 16, 2020</text>
<text x="1067" y="2406" font-size="19" font-family="'Liberation Sans', 'DejaVu Sans', sans-serif" fill="#3a3a3a" text-anchor="start" textLength="195" lengthAdjust="spacingAndGlyphs">Feb 24, 2021</text>
<text x="1343.6" y="2406" font-size="19" font-family="'Liberation Sans', 'DejaVu Sans', sans-serif" fill="#3a3a3a" text-anchor="start" textLength="172.4" lengthAdjust="spacingAndGlyphs">Jun 4, 2021</text>
<circle cx="1702" cy="2404" r="1.8" fill="#444"/>
<text x="67.4" y="2437.1" font-size="17" font-family="'Liberation Sans', 'DejaVu Sans', sans-serif" fill="#777" text-anchor="start" textLength="661.3" lengthAdjust="spacingAndGlyphs">Source: Johns Hopkins University CSSE COVID-19 Data</text>
<rect x="31" y="2446.5" width="1689" height="4" fill="#eeeeee"/>
<rect x="333.7" y="85.3" width="155" height="2303" fill="none" stroke="#030f5e" stroke-width="2.8"/>
<rect x="1252.6" y="85.3" width="145.8" height="2303.5" fill="none" stroke="#030f5e" stroke-width="2.8"/>
</svg></body></html>
